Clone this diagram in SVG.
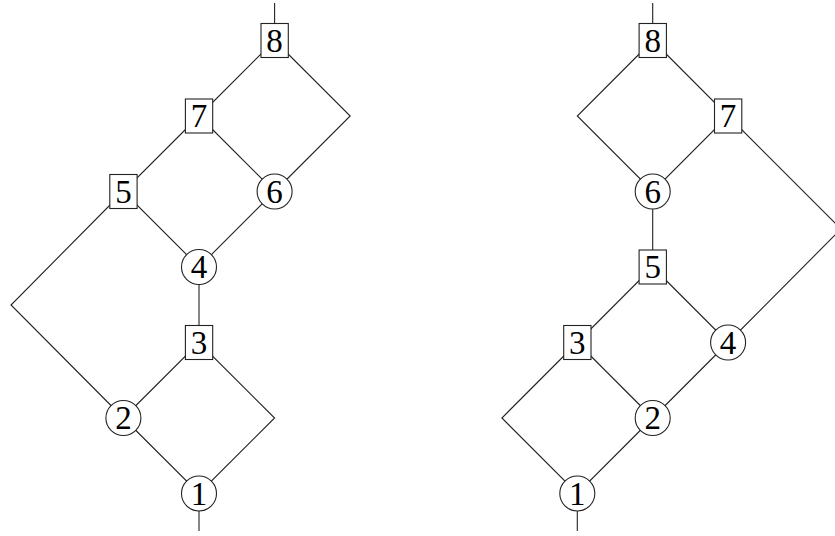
<svg xmlns="http://www.w3.org/2000/svg" width="835" height="536" viewBox="0 0 835 536">
<style>
.e{fill:none;stroke:#222;stroke-width:1.1}
.b{fill:#fff;stroke:#222;stroke-width:1.1}
.t{font-family:"Liberation Serif","DejaVu Serif",serif;font-size:33px;fill:#000;text-anchor:middle}
</style>
<rect width="835" height="536" fill="#fff"/>
<g id="connectors">
<polyline class="e" points="274.6,3 274.6,40.5"/>
<polyline class="e" points="274.6,40.5 199,116 123.4,191.5 199,267 274.6,191.5 350.2,116 274.6,40.5"/>
<polyline class="e" points="199,116 274.6,191.5"/>
<polyline class="e" points="123.4,191.5 11,305 123.4,418 199,493.5 274.6,418 199,342.5 123.4,418"/>
<polyline class="e" points="199,267 199,342.5"/>
<polyline class="e" points="199,493.5 199,531"/>
<polyline class="e" points="652.7,3 652.7,40.5"/>
<polyline class="e" points="652.7,40.5 577.3,116 652.7,191.5 728.1,116 652.7,40.5"/>
<polyline class="e" points="652.7,191.5 652.7,267 577.3,342.5 501.9,418 577.3,493.5 652.7,418 728.1,342.5 841,229 728.1,116"/>
<polyline class="e" points="652.7,267 728.1,342.5"/>
<polyline class="e" points="577.3,342.5 652.7,418"/>
<polyline class="e" points="577.3,493.5 577.3,531"/>
</g>
<g id="L8"><rect class="b" x="261" y="23.5" width="27.3" height="34"/><text class="t" x="274.6" y="51.5">8</text></g>
<g id="L7"><rect class="b" x="185.4" y="99" width="27.3" height="34"/><text class="t" x="199" y="127">7</text></g>
<g id="L5"><rect class="b" x="109.8" y="174.5" width="27.3" height="34"/><text class="t" x="123.4" y="202.5">5</text></g>
<g id="L6"><circle class="b" cx="274.6" cy="191.5" r="17.5"/><text class="t" x="274.6" y="202.5">6</text></g>
<g id="L4"><circle class="b" cx="199" cy="267" r="17.5"/><text class="t" x="199" y="278">4</text></g>
<g id="L3"><rect class="b" x="185.4" y="325.5" width="27.3" height="34"/><text class="t" x="199" y="353.5">3</text></g>
<g id="L2"><circle class="b" cx="123.4" cy="418" r="17.5"/><text class="t" x="123.4" y="429">2</text></g>
<g id="L1"><circle class="b" cx="199" cy="493.5" r="17.5"/><text class="t" x="199" y="504.5">1</text></g>
<g id="R8"><rect class="b" x="639.1" y="23.5" width="27.3" height="34"/><text class="t" x="652.7" y="51.5">8</text></g>
<g id="R7"><rect class="b" x="714.5" y="99" width="27.3" height="34"/><text class="t" x="728.1" y="127">7</text></g>
<g id="R6"><circle class="b" cx="652.7" cy="191.5" r="17.5"/><text class="t" x="652.7" y="202.5">6</text></g>
<g id="R5"><rect class="b" x="639.1" y="250" width="27.3" height="34"/><text class="t" x="652.7" y="278">5</text></g>
<g id="R3"><rect class="b" x="563.7" y="325.5" width="27.3" height="34"/><text class="t" x="577.3" y="353.5">3</text></g>
<g id="R4"><circle class="b" cx="728.1" cy="342.5" r="17.5"/><text class="t" x="728.1" y="353.5">4</text></g>
<g id="R2"><circle class="b" cx="652.7" cy="418" r="17.5"/><text class="t" x="652.7" y="429">2</text></g>
<g id="R1"><circle class="b" cx="577.3" cy="493.5" r="17.5"/><text class="t" x="577.3" y="504.5">1</text></g>
</svg>
